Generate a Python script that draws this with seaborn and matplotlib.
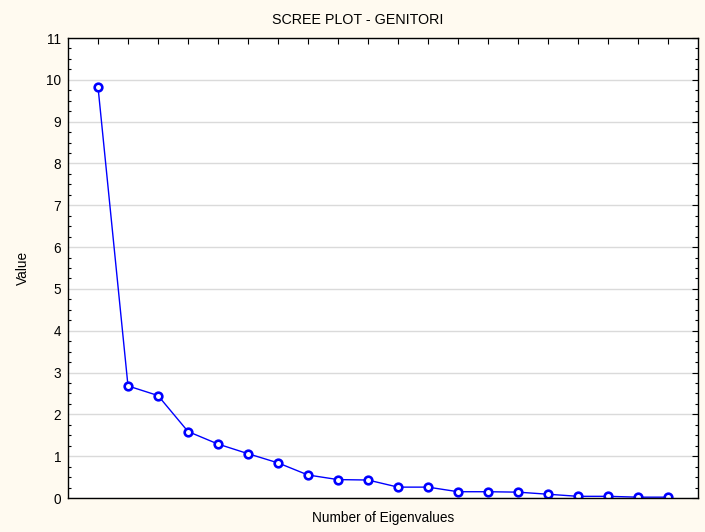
import matplotlib
matplotlib.use("Agg")
import matplotlib.pyplot as plt
import seaborn as sns
import pandas as pd
from matplotlib.ticker import MultipleLocator, NullFormatter

eigen_number = list(range(1, 21))
eigen_values = [9.83, 2.68, 2.45, 1.59, 1.29, 1.06, 0.84, 0.55, 0.44, 0.43,
                0.26, 0.26, 0.15, 0.15, 0.14, 0.09, 0.04, 0.04, 0.02, 0.02]
y_tick_labels = [str(i) for i in range(0, 12)]

sns.set_theme(style="white")
plt.rcParams['font.family'] = ['Liberation Sans', 'DejaVu Sans']

df = pd.DataFrame({"n": eigen_number, "v": eigen_values})

fig = plt.figure(figsize=(7.05, 5.32), dpi=100, facecolor="#FFFAF0")
ax = fig.add_axes([68/705, 34/532, 630/705, 460/532])
ax.set_facecolor("white")

sns.lineplot(data=df, x="n", y="v", ax=ax, color="#0000FF", linewidth=1.0,
             marker="o", markersize=5.5, markerfacecolor="white",
             markeredgecolor="#0000FF", markeredgewidth=1.9)

ax.set_xlim(0, 21)
ax.set_ylim(0, 11)
ax.set_yticks(range(0, 12))
ax.set_yticklabels(y_tick_labels)
ax.yaxis.set_minor_locator(MultipleLocator(0.25))
ax.set_xticks(eigen_number)
ax.xaxis.set_major_formatter(NullFormatter())

ax.grid(axis="y", which="major", color="#DADADA", linewidth=1.0)
ax.grid(axis="x", visible=False)

for s in ax.spines.values():
    s.set_color("black")
    s.set_linewidth(1.0)
    s.set_visible(True)

ax.tick_params(axis="both", which="major", direction="in", length=4, width=0.8,
               color="black", top=True, right=True, labelsize=9.8, labelcolor="black", pad=5)
ax.tick_params(axis="y", which="minor", direction="in", length=2.5, width=0.8,
               color="black", left=True, right=True)
ax.tick_params(axis="x", which="major", labelbottom=False)

ax.set_title("SCREE PLOT - GENITORI", fontsize=10.3, color="black", pad=10,
             x=(358 - 68) / 630)
ax.set_xlabel("Number of Eigenvalues", fontsize=9.8, color="black", labelpad=9.5)
ax.set_ylabel("Value", fontsize=9.8, color="black", labelpad=11.5)

fig.savefig("out.png", dpi=100, facecolor=fig.get_facecolor())
